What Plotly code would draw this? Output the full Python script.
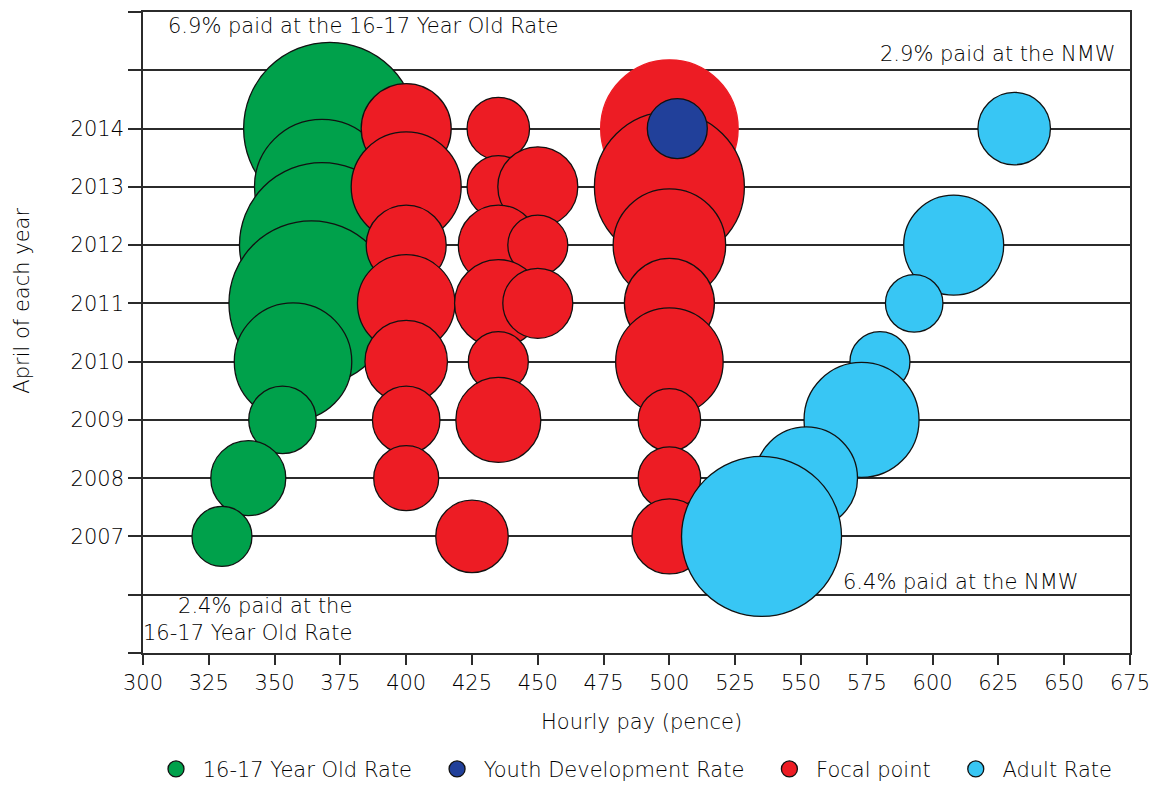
import plotly.graph_objects as go

# ---------------- data ----------------
# 16-17 Year Old Rate
years_1617 = [2007, 2008, 2009, 2010, 2011, 2012, 2013, 2014]
pay_1617 = [330, 340, 353, 357, 364, 368, 368, 371]
share_1617 = [2.4, 3.0, 2.7, 4.7, 6.6, 6.6, 5.4, 6.9]

# Youth Development Rate
years_ydr = [2014]
pay_ydr = [503]
share_ydr = [2.4]

# Focal point
years_focal = [2014, 2014, 2014,
               2013, 2013, 2013, 2013,
               2012, 2012, 2012, 2012,
               2011, 2011, 2011, 2011,
               2010, 2010, 2010,
               2009, 2009, 2009,
               2008, 2008,
               2007, 2007]
pay_focal = [400, 435, 500,
             400, 435, 450, 500,
             400, 435, 450, 500,
             400, 435, 450, 500,
             400, 435, 500,
             400, 435, 500,
             400, 500,
             425, 500]
share_focal = [3.6, 2.5, 5.5,
               4.4, 2.5, 3.2, 6.0,
               3.2, 3.2, 2.4, 4.5,
               3.9, 3.5, 2.8, 3.6,
               3.3, 2.4, 4.3,
               2.7, 3.4, 2.5,
               2.6, 2.5,
               2.9, 3.0]

# Adult Rate
years_adult = [2007, 2008, 2009, 2010, 2011, 2012, 2014]
pay_adult = [535, 552, 573, 580, 593, 608, 631]
share_adult = [6.4, 4.1, 4.6, 2.4, 2.3, 4.0, 2.9]

x_ticks = list(range(300, 676, 25))
y_ticks = list(range(2005, 2017))
y_labels = [str(y) if 2007 <= y <= 2014 else "" for y in y_ticks]

# ---------------- style ----------------
FONT = "DejaVu Sans, Liberation Sans, Arial, sans-serif"
FSIZE = 21
FWEIGHT = 300
TXT = "#000000"
LINE = "#2b2b2b"
PX_PER_PCT = 25.0
NO_OUTLINE = [(500, 2014)]
NBSP = "\u00a0"


def ordered(years, pay, share):
    pts = sorted(zip(years, pay, share), key=lambda p: (-p[0], p[1]))
    return [p[1] for p in pts], [p[0] for p in pts], [p[2] for p in pts]


def bubble(name, years, pay, share, color):
    xs, ys, ss = ordered(years, pay, share)
    lc = [color if (x, y) in NO_OUTLINE else "#111111" for x, y in zip(xs, ys)]
    return go.Scatter(
        x=xs, y=ys, mode="markers", name=name, legendgroup=name, showlegend=False,
        marker=dict(size=ss, sizemode="diameter", sizeref=1.0 / PX_PER_PCT,
                    color=color, opacity=1,
                    line=dict(color=lc, width=1.3)),
        hovertemplate="%{x}p, %{y}: %{marker.size}%<extra>" + name + "</extra>",
    )


def legend_entry(name, color, rank, last):
    label = NBSP + name + ("" if last else NBSP * 3)
    return go.Scatter(
        x=[None], y=[None], mode="markers", name=label, legendgroup=name,
        legendrank=rank, showlegend=True,
        marker=dict(size=22, color=color, line=dict(color="#111111", width=1.3)),
    )


series = [
    ("16-17 Year Old Rate", years_1617, pay_1617, share_1617, "#00a14b", 1),
    ("Focal point", years_focal, pay_focal, share_focal, "#ed1c24", 3),
    ("Adult Rate", years_adult, pay_adult, share_adult, "#38c6f4", 4),
    ("Youth Development Rate", years_ydr, pay_ydr, share_ydr, "#21409a", 2),
]

fig = go.Figure()
for name, yy, pp, ss, col, rank in series:
    fig.add_trace(bubble(name, yy, pp, ss, col))
for name, yy, pp, ss, col, rank in series:
    fig.add_trace(legend_entry(name, col, rank, rank == 4))

fnt = dict(family=FONT, size=FSIZE, color=TXT, weight=FWEIGHT)
annotations = [
    dict(x=383.4, y=2015.76, xref="x", yref="y", text="6.9% paid at the 16-17 Year Old Rate",
         showarrow=False, xanchor="center", yanchor="middle", font=fnt),
    dict(x=670.3, y=2015.28, xref="x", yref="y", text="2.9% paid at the NMW",
         showarrow=False, xanchor="right", yanchor="middle", font=fnt),
    dict(x=565.3, y=2006.22, xref="x", yref="y", text="6.4% paid at the NMW",
         showarrow=False, xanchor="left", yanchor="middle", font=fnt),
    dict(x=380, y=2005.58, xref="x", yref="y", text="2.4% paid at the<br>16-17 Year Old Rate",
         showarrow=False, xanchor="right", yanchor="middle", align="right", font=fnt),
    dict(x=-0.122, y=0.549, xref="paper", yref="paper", text="April of each year",
         textangle=-90, showarrow=False, xanchor="center", yanchor="middle", font=fnt),
    dict(x=0.505, y=-0.107, xref="paper", yref="paper", text="Hourly pay (pence)",
         showarrow=False, xanchor="center", yanchor="middle", font=fnt),
]

fig.update_layout(
    width=1160, height=785,
    margin=dict(l=143, r=27, t=10, b=132),
    paper_bgcolor="white", plot_bgcolor="white",
    font=fnt,
    showlegend=True,
    legend=dict(orientation="h", x=0.5, xanchor="center", y=0.02, yanchor="middle",
                yref="container", itemsizing="trace", traceorder="normal", font=fnt),
    annotations=annotations,
    xaxis=dict(range=[300, 675], tickvals=x_ticks, ticks="outside", ticklen=10,
               tickcolor=LINE, tickwidth=1.5, showgrid=False, zeroline=False,
               showline=True, linecolor=LINE, linewidth=1.5, mirror=True, tickfont=fnt),
    yaxis=dict(range=[2005, 2016], tickvals=y_ticks, ticktext=y_labels, ticks="outside",
               ticklen=13, tickcolor=LINE, tickwidth=1.5, showgrid=True, gridcolor=LINE,
               gridwidth=1.5, zeroline=False, showline=True, linecolor=LINE, linewidth=1.5,
               mirror=True, tickfont=fnt),
)

fig.write_html("out.html", config={"displayModeBar": False},
               post_script="document.body.style.margin='0';document.body.style.overflow='hidden';")
